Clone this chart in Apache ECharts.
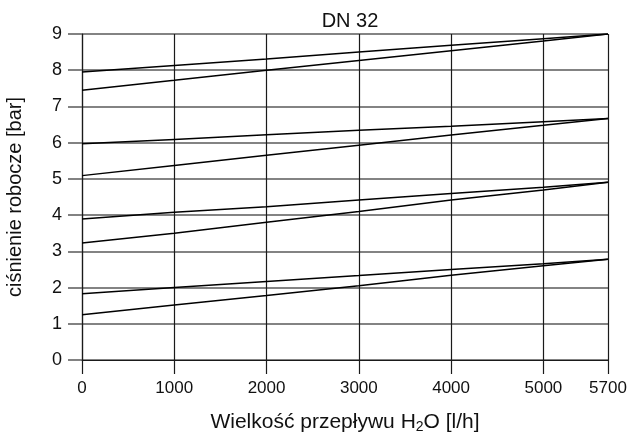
<!DOCTYPE html>
<html>
<head>
<meta charset="utf-8">
<script src="https://cdn.jsdelivr.net/npm/echarts@6/dist/echarts.min.js"></script>
<style>
  html, body { margin: 0; padding: 0; background: #fff; }
  #chart { width: 640px; height: 434px; }
</style>
</head>
<body>
<div id="chart"></div>
<script>
// przepływ [l/h] – punkty odczytu
const flow = [0, 1000, 2000, 3000, 4000, 5000, 5700];

// ciśnienie robocze [bar], cztery pary krzywych
const pair1Upper = [7.95, 8.13, 8.31, 8.50, 8.69, 8.87, 9.0];
const pair1Lower = [7.45, 7.72, 8.00, 8.27, 8.54, 8.81, 9.0];
const pair2Upper = [5.97, 6.09, 6.22, 6.34, 6.45, 6.58, 6.67];
const pair2Lower = [5.09, 5.37, 5.65, 5.93, 6.21, 6.48, 6.67];
const pair3Upper = [3.89, 4.08, 4.23, 4.42, 4.60, 4.77, 4.91];
const pair3Lower = [3.23, 3.50, 3.80, 4.10, 4.42, 4.69, 4.91];
const pair4Upper = [1.83, 2.00, 2.17, 2.33, 2.50, 2.66, 2.78];
const pair4Lower = [1.25, 1.52, 1.78, 2.05, 2.34, 2.60, 2.78];

const curves = [pair1Upper, pair1Lower, pair2Upper, pair2Lower, pair3Upper, pair3Lower, pair4Upper, pair4Lower];

const font = '"Liberation Sans", Arial, sans-serif';
const hGrid = '#5a5a5a';
const vGrid = '#1a1a1a';

const chart = echarts.init(document.getElementById('chart'));

chart.setOption({
  animation: false,
  title: {
    text: 'DN 32',
    left: 345,
    textAlign: 'center',
    top: 6,
    textStyle: { fontFamily: font, fontSize: 20, fontWeight: 'normal', color: '#111' }
  },
  grid: { left: 82, right: 32, top: 34, bottom: 74, outerBoundsMode: 'none', containLabel: false },
  xAxis: {
    type: 'value',
    min: 0,
    max: 5700,
    interval: 1000,
    name: 'Wielkość przepływu H{sub|2}O [l/h]',
    nameLocation: 'middle',
    nameGap: 50,
    nameTextStyle: {
      fontFamily: font, fontSize: 21, color: '#111',
      rich: { sub: { fontFamily: font, fontSize: 14, color: '#111', verticalAlign: 'bottom', padding: [10, 0, 0, 0] } }
    },
    axisLine: { show: true, lineStyle: { color: vGrid, width: 1.2 } },
    axisTick: { show: true, length: 14, lineStyle: { color: vGrid, width: 1.2 } },
    axisLabel: {
      fontFamily: font, fontSize: 17, color: '#111', margin: 20, showMaxLabel: true,
      formatter: (v) => String(v)
    },
    splitLine: { show: true, lineStyle: { color: vGrid, width: 1.2 } }
  },
  yAxis: {
    type: 'value',
    min: 0,
    max: 9,
    interval: 1,
    name: 'ciśnienie robocze [bar]',
    nameLocation: 'middle',
    nameRotate: 90,
    nameGap: 57,
    nameTextStyle: { fontFamily: font, fontSize: 20, color: '#111' },
    axisLine: { show: true, lineStyle: { color: vGrid, width: 1.2 } },
    axisTick: { show: true, length: 14, lineStyle: { color: hGrid, width: 1.5 } },
    axisLabel: { fontFamily: font, fontSize: 18, color: '#111', margin: 20 },
    splitLine: { show: true, lineStyle: { color: hGrid, width: 1.5 } }
  },
  series: curves.map((values) => ({
    type: 'line',
    data: flow.map((x, i) => [x, values[i]]),
    symbol: 'none',
    smooth: false,
    lineStyle: { color: '#000', width: 1.5 }
  }))
});
</script>
</body>
</html>
